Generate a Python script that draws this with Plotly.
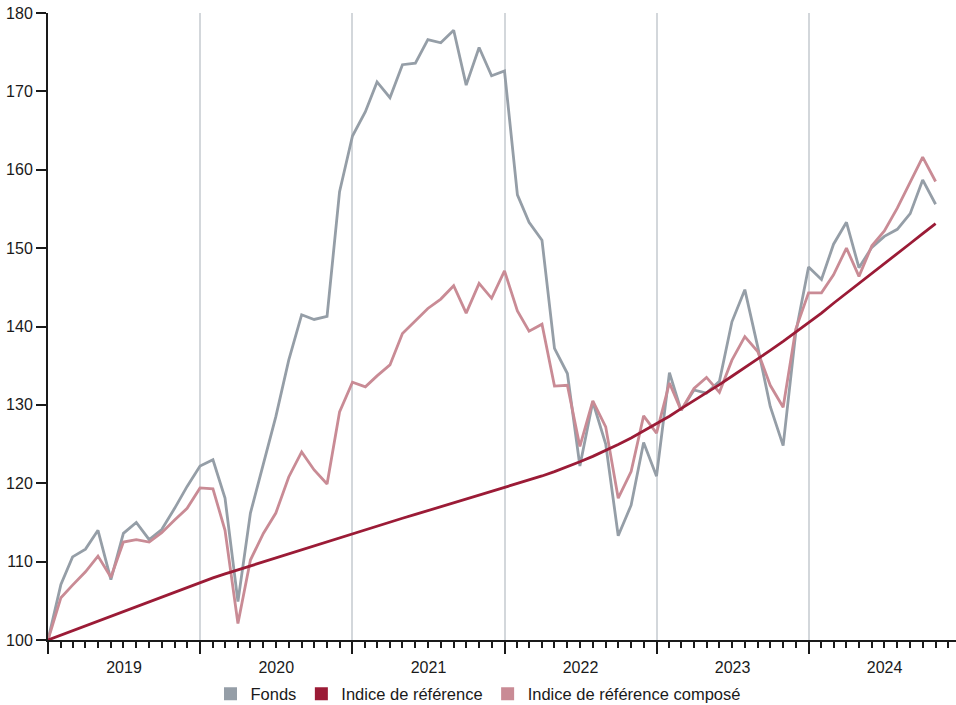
import pandas as pd
import plotly.graph_objects as go

# Monthly observation dates (first point = start of 2019)
dates = pd.date_range("2019-01-01", periods=71, freq="MS")

fonds = [
    100.0, 107.1, 110.6, 111.6, 114.0, 107.7, 113.6, 115.0, 112.8, 114.1, 116.8, 119.6,
    122.2, 123.0, 118.1, 104.9, 116.2, 122.5, 128.5, 135.7, 141.5, 140.9, 141.3, 157.2,
    164.3, 167.4, 171.2, 169.2, 173.4, 173.6, 176.6, 176.2, 177.8, 170.8, 175.6, 172.0,
    172.6, 156.8, 153.3, 151.0, 137.2, 134.0, 122.2, 130.4, 125.0, 113.3, 117.2, 125.2,
    120.9, 134.1, 129.3, 131.9, 131.5, 133.0, 140.6, 144.7, 137.4, 129.8, 124.8, 139.1,
    147.6, 146.0, 150.5, 153.3, 147.5, 150.1, 151.5, 152.4, 154.4, 158.7, 155.6,
]

indice_ref = [
    100.0, 100.62, 101.23, 101.85, 102.47, 103.08, 103.7, 104.32, 104.93, 105.55, 106.17, 106.78,
    107.4, 107.92, 108.43, 108.95, 109.47, 109.98, 110.5, 111.02, 111.53, 112.05, 112.57, 113.08,
    113.6, 114.08, 114.57, 115.05, 115.53, 116.02, 116.5, 116.98, 117.47, 117.95, 118.43, 118.92,
    119.4, 119.89, 120.39, 120.93, 121.49, 122.1, 122.74, 123.43, 124.16, 124.95, 125.78, 126.67,
    127.6, 128.55, 129.53, 130.53, 131.55, 132.59, 133.65, 134.73, 135.83, 136.95, 138.09, 139.25,
    140.43, 141.7, 142.97, 144.24, 145.51, 146.78, 148.05, 149.32, 150.59, 151.86, 153.13,
]

indice_compose = [
    100.0, 105.4, 107.0, 108.7, 110.7, 108.0, 112.5, 112.8, 112.5, 113.7, 115.3, 116.8,
    119.4, 119.3, 114.0, 102.1, 110.2, 113.6, 116.2, 120.8, 124.0, 121.7, 119.9, 129.1,
    132.9, 132.3, 133.7, 135.1, 139.1, 140.7, 142.3, 143.5, 145.2, 141.7, 145.5, 143.6,
    147.1, 142.0, 139.4, 140.3, 132.4, 132.5, 124.7, 130.5, 127.2, 118.1, 121.5, 128.6,
    126.4, 132.8, 129.3, 132.1, 133.5, 131.6, 135.7, 138.7, 136.8, 132.5, 129.7, 139.6,
    144.3, 144.3, 146.6, 150.0, 146.4, 150.3, 152.2, 155.1, 158.3, 161.6, 158.5,
]

names = ["Fonds", "Indice de référence", "Indice de référence composé"]
colors = ["#959ea7", "#9b1b36", "#c98b95"]

FONT = "Liberation Sans, Arial, Helvetica, sans-serif"
TXT = "#1a1a1a"

fig = go.Figure()

# Lines (drawn order: Fonds, composé, référence)
fig.add_trace(go.Scatter(x=dates, y=fonds, mode="lines",
                         line=dict(color=colors[0], width=2.8), showlegend=False, name=names[0]))
fig.add_trace(go.Scatter(x=dates, y=indice_compose, mode="lines",
                         line=dict(color=colors[2], width=2.8), showlegend=False, name=names[2]))
fig.add_trace(go.Scatter(x=dates, y=indice_ref, mode="lines",
                         line=dict(color=colors[1], width=2.8), showlegend=False, name=names[1]))

# Legend entries with square swatches
for n, c in zip(names, colors):
    fig.add_trace(go.Scatter(x=[None], y=[None], mode="markers", name=n,
                             marker=dict(symbol="square", size=13, color=c)))

fig.update_layout(
    width=956, height=705,
    margin=dict(l=48, r=0, t=13, b=65, autoexpand=False),
    paper_bgcolor="white", plot_bgcolor="white",
    font=dict(family=FONT, size=16, color=TXT),
    showlegend=True,
    legend=dict(orientation="h", xref="container", x=0.5, xanchor="center",
                yref="paper", y=-0.086, yanchor="middle",
                font=dict(size=16.5, color=TXT), itemwidth=30, traceorder="normal"),
)

fig.update_xaxes(
    type="date",
    range=["2019-01-01", "2024-12-20"],
    tick0="2019-01-01", dtick="M12", tickformat="%Y",
    ticklabelmode="period",
    ticks="outside", ticklen=12, tickwidth=1.5, tickcolor=TXT,
    minor=dict(dtick="M1", tick0="2019-01-01", ticks="outside", ticklen=6,
               tickwidth=1.5, tickcolor=TXT, showgrid=False),
    showgrid=True, gridcolor="#d3d7db", gridwidth=1.5,
    showline=True, linecolor=TXT, linewidth=2,
    zeroline=False, fixedrange=True, automargin=False,
    tickfont=dict(size=16, color=TXT),
)

fig.update_yaxes(
    range=[100, 180], dtick=10, tick0=100,
    ticks="outside", ticklen=10, tickwidth=1.5, tickcolor=TXT,
    showgrid=False, zeroline=False,
    showline=True, linecolor=TXT, linewidth=2, automargin=False,
    tickfont=dict(size=16, color=TXT), fixedrange=True,
)

fig.write_html(
    "out.html",
    config={"displayModeBar": False},
    post_script="document.body.style.margin='0';document.body.style.padding='0';document.body.style.overflow='hidden';",
)
